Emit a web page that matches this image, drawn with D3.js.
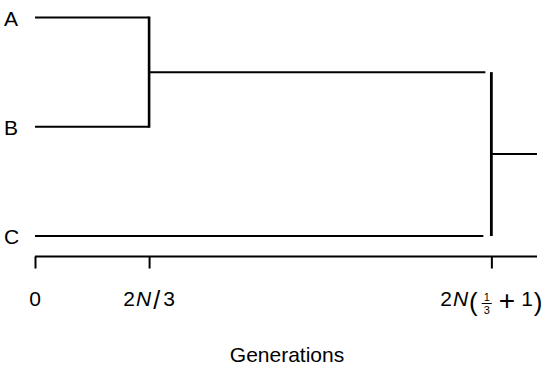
<!DOCTYPE html>
<html>
<head>
<meta charset="utf-8">
<script src="https://cdn.jsdelivr.net/npm/d3@7"></script>
<style>
  body { margin: 0; background: #fff; }
  text { font-family: "Liberation Sans", Arial, sans-serif; fill: #000; }
</style>
</head>
<body>
<script>
// leaves and their rows (top to bottom)
const leaves = ["A", "B", "C"];
const leafRows = [0, 1, 2];
// coalescence times, in units of 2N/3
const joinTimes = [1, 4];
const rootEnd = 4.4;
// tick positions
const tickValues = [0, 1, 4];
const axisTitle = "Generations";

const width = 555, height = 371;

const svg = d3.select("body").append("svg")
  .attr("width", width)
  .attr("height", height);

const x = d3.scaleLinear().domain([0, rootEnd]).range([35, 537]);
const y = d3.scaleLinear().domain([0, 2]).range([17.5, 236]);

const g = svg.append("g").attr("stroke", "#000").attr("fill", "none");

// first join: A and B
const abY = (leafRows[0] + leafRows[1]) / 2;
g.append("line").attr("x1", x(0)).attr("x2", x(joinTimes[0]))
  .attr("y1", y(leafRows[0])).attr("y2", y(leafRows[0])).attr("stroke-width", 2);
g.append("line").attr("x1", x(0)).attr("x2", x(joinTimes[0]))
  .attr("y1", y(leafRows[1])).attr("y2", y(leafRows[1])).attr("stroke-width", 2);
g.append("line").attr("x1", x(joinTimes[0])).attr("x2", x(joinTimes[0]))
  .attr("y1", y(leafRows[0]) - 1).attr("y2", y(leafRows[1]) + 1).attr("stroke-width", 2.6);

// second join: (AB) and C
const rootY = (abY + leafRows[2]) / 2;
const gap = 6;
g.append("line").attr("x1", x(joinTimes[0])).attr("x2", x(joinTimes[1]) - gap)
  .attr("y1", y(abY)).attr("y2", y(abY)).attr("stroke-width", 2);
g.append("line").attr("x1", x(0)).attr("x2", x(joinTimes[1]) - gap - 2)
  .attr("y1", y(leafRows[2])).attr("y2", y(leafRows[2])).attr("stroke-width", 2);
g.append("line").attr("x1", x(joinTimes[1])).attr("x2", x(joinTimes[1]))
  .attr("y1", y(abY)).attr("y2", y(leafRows[2])).attr("stroke-width", 2.8);
g.append("line").attr("x1", x(joinTimes[1])).attr("x2", x(rootEnd))
  .attr("y1", y(rootY)).attr("y2", y(rootY)).attr("stroke-width", 2);

// leaf labels
svg.selectAll(".leaf").data(leaves).enter().append("text")
  .attr("class", "leaf")
  .attr("x", 4)
  .attr("y", (d, i) => y(leafRows[i]) + 8)
  .attr("font-size", 21)
  .text(d => d);

// axis
const axisY = 256.5;
const axis = d3.axisBottom(x).tickValues(tickValues).tickSize(12).tickFormat("");
const ax = svg.append("g").attr("transform", `translate(0,${axisY})`).call(axis);
ax.select(".domain").attr("d", `M${x(0)},0H${x(rootEnd)}`).attr("stroke-width", 2);
ax.selectAll(".tick line").attr("stroke-width", 2);

// tick labels, built from pieces so the math bits line up
const labY = 306;
function label(center) {
  const grp = svg.append("g");
  let cx = 0;
  const piece = (str, opts = {}) => {
    const t = grp.append("text").attr("x", cx + (opts.before ?? 0)).attr("y", opts.y ?? labY)
      .attr("font-size", opts.size ?? 21)
      .attr("font-style", opts.italic ? "italic" : null)
      .text(str);
    cx += (opts.before ?? 0) + t.node().getComputedTextLength() + (opts.after ?? 0);
    return t;
  };
  return { grp, piece, skip: d => { cx += d; }, pos: () => cx,
    done: () => grp.attr("transform", `translate(${center - cx / 2},0)`) };
}

const l0 = label(x(tickValues[0]));
l0.piece("0");
l0.done();

const l1 = label(x(tickValues[1]));
l1.piece("2", { after: 1 });
l1.piece("N", { italic: true, after: 2 });
l1.piece("/", { size: 25, y: labY + 3, after: 3 });
l1.piece("3");
l1.done();

const l2 = label(x(tickValues[2]));
l2.piece("2", { after: 1 });
l2.piece("N", { italic: true, after: 1 });
l2.piece("(", { size: 26, y: labY + 5, after: 4 });
const fx = l2.pos();
// stacked 1/3 as one text
const frac = l2.grp.append("text").attr("font-size", 11).attr("text-anchor", "middle");
frac.append("tspan").attr("x", fx + 5).attr("y", labY - 5).text("1");
frac.append("tspan").attr("x", fx + 5).attr("y", labY + 8).text("3");
l2.grp.append("line").attr("x1", fx).attr("x2", fx + 10)
  .attr("y1", labY - 2.5).attr("y2", labY - 2.5).attr("stroke", "#000").attr("stroke-width", 1);
l2.skip(10);
l2.piece("+", { size: 28, y: labY + 4, before: 7, after: 6 });
l2.piece("1", { after: 1 });
l2.piece(")", { size: 26, y: labY + 5 });
l2.done();

// axis title
svg.append("text").attr("x", 287).attr("y", 362).attr("text-anchor", "middle")
  .attr("font-size", 21).text(axisTitle);
</script>
</body>
</html>
